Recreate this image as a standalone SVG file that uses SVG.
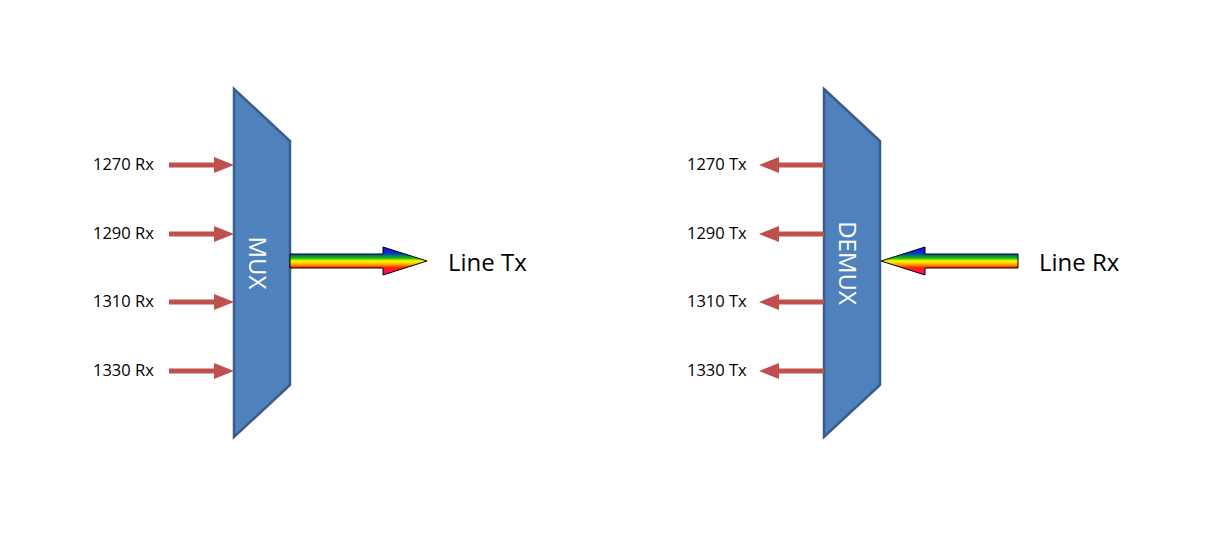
<svg xmlns="http://www.w3.org/2000/svg" width="1207" height="538" viewBox="0 0 1207 538">
<style>
.blk{fill:#4f81bd;stroke:#385d8a;stroke-width:2.5}
.lbl{font-family:"Open Sans","Liberation Sans",sans-serif;font-size:16.5px;fill:#000}
.big{font-family:"Open Sans","Liberation Sans",sans-serif;font-size:24px;fill:#000}
.bt{font-family:"Open Sans","Liberation Sans",sans-serif;font-size:24px;fill:#fff}
.red{fill:#c0504d}
.rb{fill:url(#rain);stroke:#000;stroke-width:1}
</style>
<defs>
<linearGradient id="rain" gradientUnits="userSpaceOnUse" x1="0" y1="247" x2="0" y2="275">
<stop offset="0" stop-color="#3300ff"/>
<stop offset="0.22" stop-color="#0033cc"/>
<stop offset="0.3" stop-color="#007777"/>
<stop offset="0.4" stop-color="#22bb00"/>
<stop offset="0.5" stop-color="#ffff00"/>
<stop offset="0.62" stop-color="#ffaa00"/>
<stop offset="0.74" stop-color="#ff2200"/>
<stop offset="1" stop-color="#ff00aa"/>
</linearGradient>
<g id="ra"><path class="red" d="M0,-2.5 H45 V-8 L65,0 L45,8 V2.5 H0 Z"/></g>
</defs>
<g id="mux">
<polygon class="blk" points="234,89 290,141 290,385 234,437"/>
<text class="bt" transform="translate(249,263) rotate(90)" text-anchor="middle">MUX</text>
</g>
<g id="demux">
<polygon class="blk" points="824,89 880,141 880,385 824,437"/>
<text class="bt" transform="translate(839,263) rotate(90)" text-anchor="middle">DEMUX</text>
</g>
<g id="labels">
<text class="lbl" x="93" y="170">1270 Rx</text>
<text class="lbl" x="93" y="239">1290 Rx</text>
<text class="lbl" x="93" y="307">1310 Rx</text>
<text class="lbl" x="93" y="376">1330 Rx</text>
<text class="lbl" x="687" y="170">1270 Tx</text>
<text class="lbl" x="687" y="239">1290 Tx</text>
<text class="lbl" x="687" y="307">1310 Tx</text>
<text class="lbl" x="687" y="376">1330 Tx</text>
<text class="big" x="448" y="271">Line Tx</text>
<text class="big" x="1039" y="271">Line Rx</text>
</g>
<g id="connectors">
<use href="#ra" transform="translate(169,165)"/>
<use href="#ra" transform="translate(169,234)"/>
<use href="#ra" transform="translate(169,302)"/>
<use href="#ra" transform="translate(169,371)"/>
<use href="#ra" transform="translate(824,165) scale(-1,1)"/>
<use href="#ra" transform="translate(824,234) scale(-1,1)"/>
<use href="#ra" transform="translate(824,302) scale(-1,1)"/>
<use href="#ra" transform="translate(824,371) scale(-1,1)"/>
<path class="rb" d="M290,254 H383 V247 L427,261 L383,275 V268 H290 Z"/>
<path class="rb" d="M1018,254 H925 V247 L881,261 L925,275 V268 H1018 Z"/>
</g>
</svg>
